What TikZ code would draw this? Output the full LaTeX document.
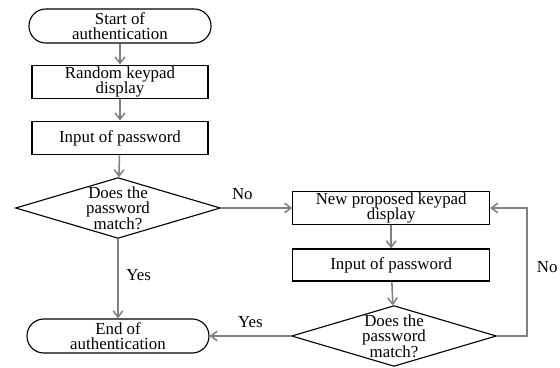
\documentclass[tikz,border=0pt]{standalone}
\usepackage{fontspec}
\setmainfont{Liberation Serif}
\usetikzlibrary{shapes,arrows,positioning,calc,arrows.meta}

\tikzset{
    terminal/.style={draw, thick, rounded corners=0.42cm, minimum width=4.55cm, minimum height=0.85cm, align=center, inner sep=1pt},
    process/.style={draw, thick, minimum width=4.4cm, minimum height=0.84cm, align=center, inner sep=1pt},
    decision/.style={draw, thick, diamond, aspect=3.4, minimum width=5.12cm, minimum height=1.52cm, align=center, inner sep=-4pt},
    flow/.style={-{Straight Barb[length=1.6mm,width=2.4mm]}, gray, line width=1.1pt},
    lbl/.style={black, font=\fontsize{12}{11}\selectfont}
}

\begin{document}
\begin{tikzpicture}[font=\fontsize{12}{11}\selectfont]
    \useasboundingbox (0,0) rectangle (14,-9.175);

    % Left column
    \node[terminal] (start) at (3.0,-0.65) {Start of\\authentication};
    \node[process] (rand) at (3.0,-2.05) {Random keypad\\display};
    \node[process] (inp1) at (3.0,-3.45) {Input of password};
    \node[decision] (dec1) at (2.95,-5.2) {Does the\\password\\match?};
    \node[terminal] (fin) at (2.95,-8.4) {End of\\authentication};

    % Right column
    \node[process, minimum width=4.92cm, minimum height=0.8cm] (newk) at (9.78,-5.2) {New proposed keypad\\display};
    \node[process, minimum width=4.92cm, minimum height=0.8cm] (inp2) at (9.78,-6.625) {Input of password};
    \node[decision] (dec2) at (9.85,-8.4) {Does the\\password\\match?};
    \coordinate (loop) at (13.175,-8.4);

    % Arrows
    \draw[flow] (start) -- (rand);
    \draw[flow] (rand) -- (inp1);
    \draw[flow] (inp1) -- (dec1);
    \draw[flow] (dec1) -- (fin) node[lbl, pos=0.45, right=2pt] {Yes};
    \draw[flow] (dec1) -- (newk) node[lbl, pos=0.3, above=2pt] {No};
    \draw[flow] (newk) -- (inp2);
    \draw[flow] (inp2) -- (dec2);
    \draw[flow] (dec2) -- (fin) node[lbl, pos=0.5, above=2pt] {Yes};
    \draw[flow] (dec2.east) -- (loop) |- (newk.east);
    \node[lbl, anchor=west, inner sep=1pt] (nolbl) at (13.38,-6.675) {No};

\end{tikzpicture}
\end{document}
